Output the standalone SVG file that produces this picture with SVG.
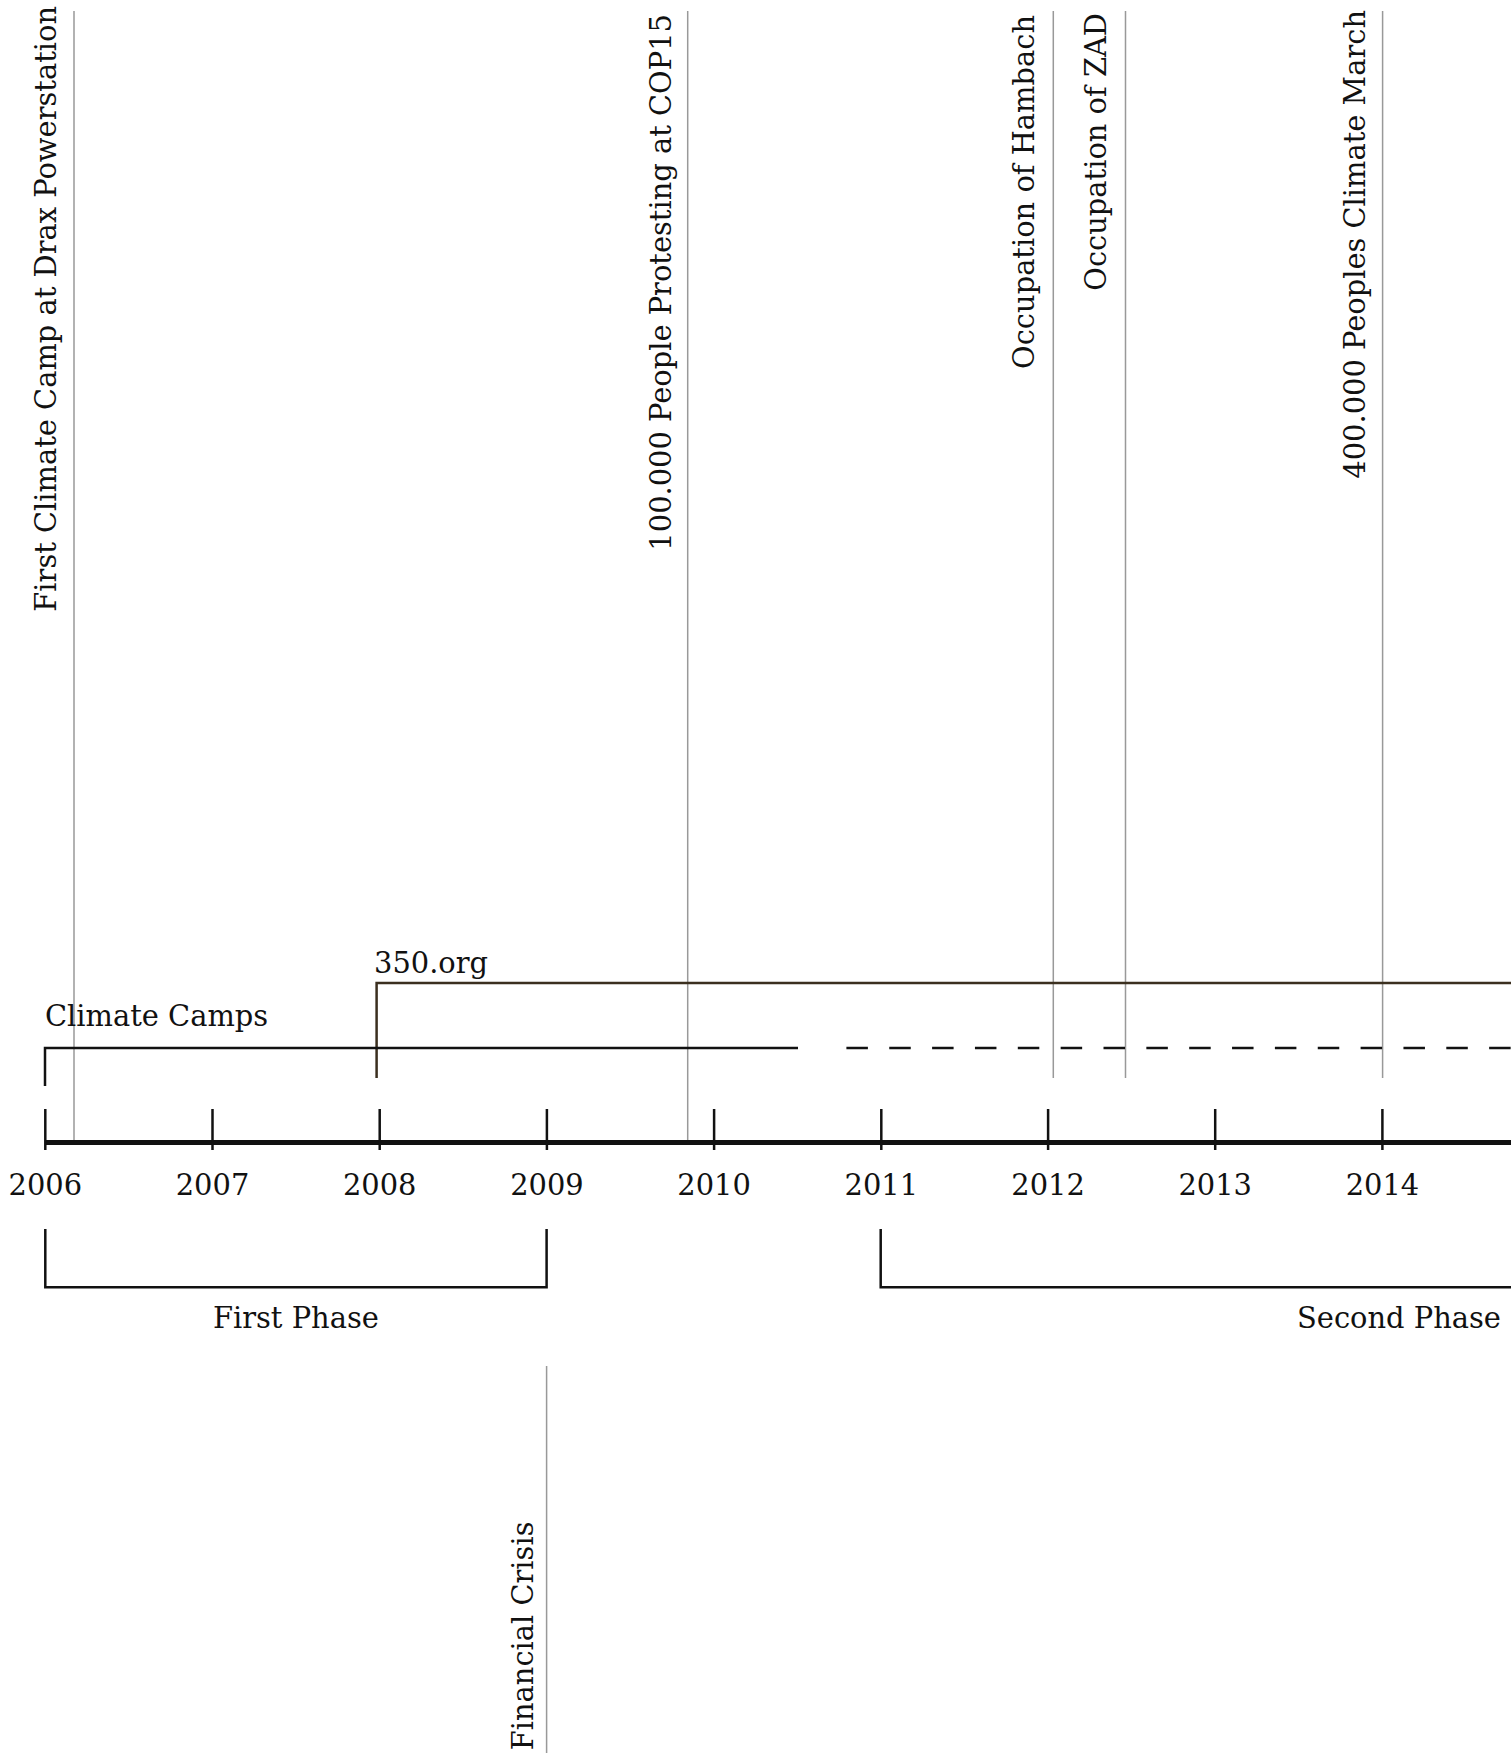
<svg xmlns="http://www.w3.org/2000/svg" width="1511" height="1753" viewBox="0 0 1511 1753">
<style>
text{font-family:"DejaVu Serif",serif;font-size:28.9px;fill:#111}
.yr{text-anchor:middle}
.ev{text-anchor:end}
.evl{stroke:#999;stroke-width:1.5;fill:none}
.tick{stroke:#111;stroke-width:2.5}
.br{stroke:#111;stroke-width:2.5;fill:none}
</style>
<rect width="1511" height="1753" fill="#fff"/>
<g id="events">
<g id="ev-drax"><line class="evl" x1="74" y1="11" x2="74" y2="1142"/><text class="ev" transform="translate(55.5,6) rotate(-90)">First Climate Camp at Drax Powerstation</text></g>
<g id="ev-cop15"><line class="evl" x1="687.7" y1="11" x2="687.7" y2="1142"/><text class="ev" transform="translate(670.7,14) rotate(-90)">100.000 People Protesting at COP15</text></g>
<g id="ev-hambach"><line class="evl" x1="1053.3" y1="11" x2="1053.3" y2="1078"/><text class="ev" transform="translate(1033.5,15) rotate(-90)">Occupation of Hambach</text></g>
<g id="ev-zad"><line class="evl" x1="1125.5" y1="11" x2="1125.5" y2="1078"/><text class="ev" transform="translate(1106,13) rotate(-90)">Occupation of ZAD</text></g>
<g id="ev-march"><line class="evl" x1="1382.6" y1="11" x2="1382.6" y2="1078"/><text class="ev" transform="translate(1365,10) rotate(-90)">400.000 Peoples Climate March</text></g>
<g id="ev-crisis"><line class="evl" x1="546.6" y1="1366" x2="546.6" y2="1753"/><text class="ev" transform="translate(532.7,1521.5) rotate(-90)">Financial Crisis</text></g>
</g>
<g id="connectors">
<g id="span-350">
<polyline points="376.6,1078 376.6,983 1511,983" fill="none" stroke="#3b2f1f" stroke-width="2.5"/>
<text x="374" y="973">350.org</text>
</g>
<g id="span-climate-camps">
<polyline class="br" points="45,1086 45,1048 798,1048"/>
<line class="br" x1="846.4" y1="1048" x2="1511" y2="1048" stroke-dasharray="21.5 21.35"/>
<text x="45" y="1026">Climate Camps</text>
</g>
<g id="axis">
<line x1="45" y1="1142.5" x2="1511" y2="1142.5" stroke="#111" stroke-width="5"/>
<line class="tick" x1="45.3" y1="1109" x2="45.3" y2="1150"/>
<line class="tick" x1="212.5" y1="1109" x2="212.5" y2="1150"/>
<line class="tick" x1="379.7" y1="1109" x2="379.7" y2="1150"/>
<line class="tick" x1="546.9" y1="1109" x2="546.9" y2="1150"/>
<line class="tick" x1="714.1" y1="1109" x2="714.1" y2="1150"/>
<line class="tick" x1="881.3" y1="1109" x2="881.3" y2="1150"/>
<line class="tick" x1="1048.1" y1="1109" x2="1048.1" y2="1150"/>
<line class="tick" x1="1215.2" y1="1109" x2="1215.2" y2="1150"/>
<line class="tick" x1="1382.4" y1="1109" x2="1382.4" y2="1150"/>
</g>
<g id="phases">
<polyline class="br" points="45.3,1229 45.3,1287.3 546.6,1287.3 546.6,1229"/>
<text class="yr" x="295.9" y="1327.7">First Phase</text>
<polyline class="br" points="880.7,1229 880.7,1287.3 1511,1287.3"/>
<text class="yr" x="1399" y="1327.7">Second Phase</text>
</g>
</g>
<g id="years">
<text class="yr" x="45.3" y="1195">2006</text>
<text class="yr" x="212.5" y="1195">2007</text>
<text class="yr" x="379.7" y="1195">2008</text>
<text class="yr" x="546.9" y="1195">2009</text>
<text class="yr" x="714.1" y="1195">2010</text>
<text class="yr" x="881.3" y="1195">2011</text>
<text class="yr" x="1048.1" y="1195">2012</text>
<text class="yr" x="1215.2" y="1195">2013</text>
<text class="yr" x="1382.4" y="1195">2014</text>
</g>
</svg>
